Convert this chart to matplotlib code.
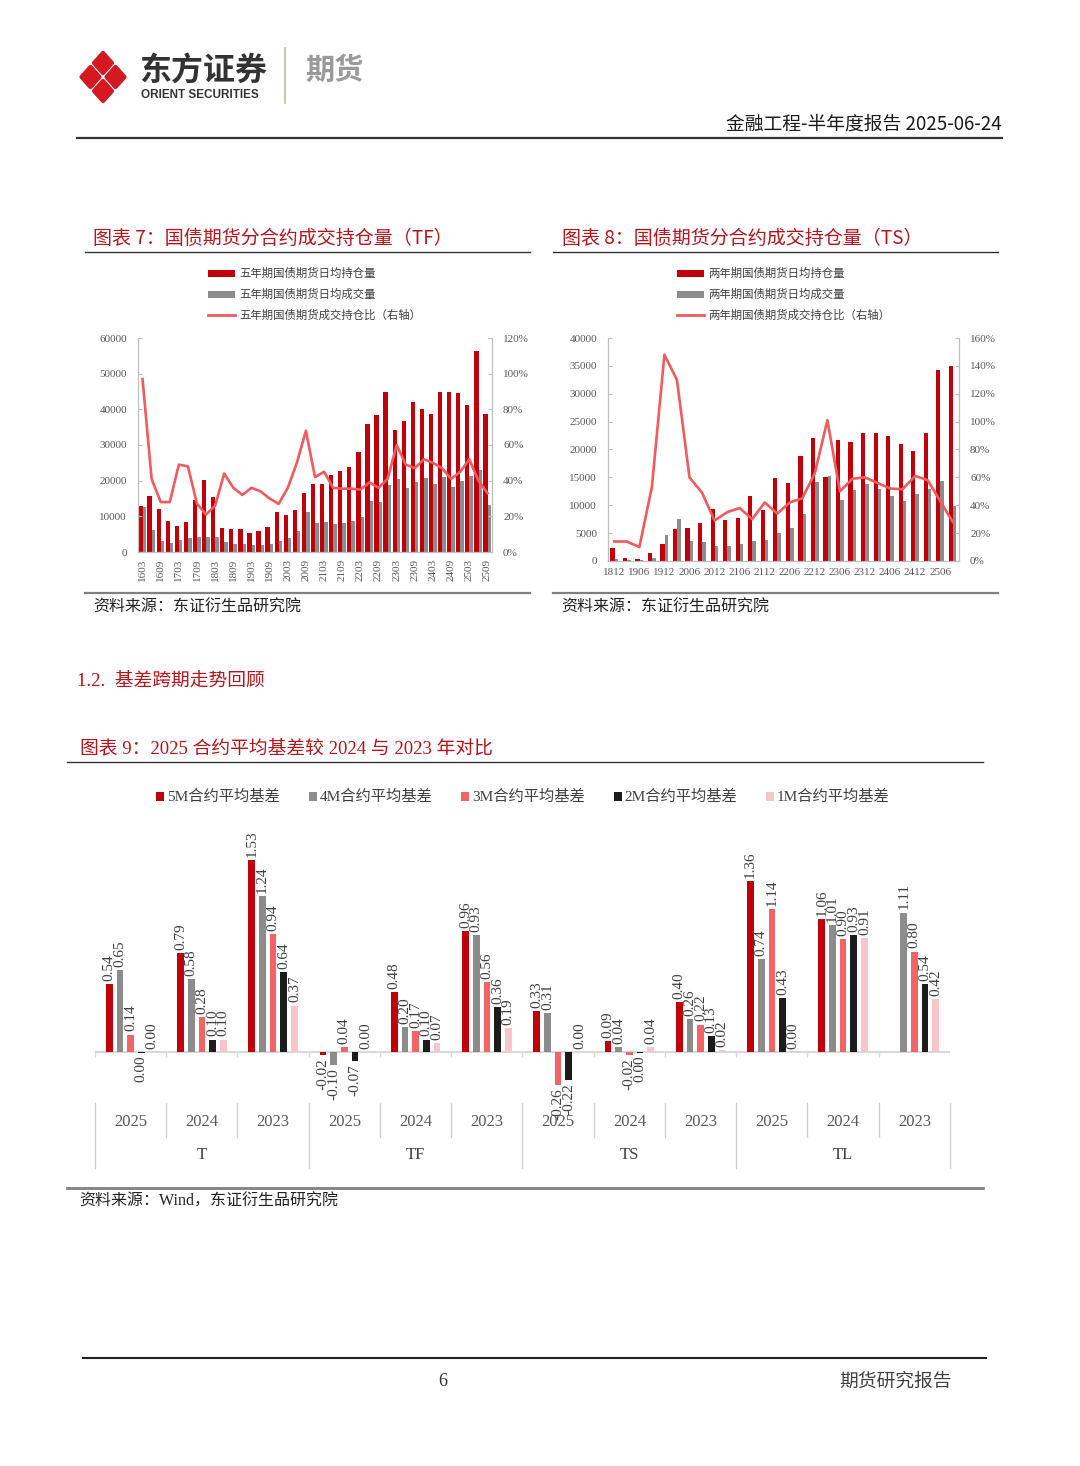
import matplotlib
matplotlib.use("Agg")
import matplotlib.pyplot as plt
import matplotlib.transforms as mtransforms
from matplotlib.lines import Line2D
from matplotlib.patches import Polygon, Rectangle
from matplotlib.ticker import FuncFormatter
import numpy as np

W, H = 1080, 1466
plt.rcParams["font.family"] = ["Liberation Serif", "Noto Sans CJK SC"]

# ---------------- 图表7 TF ----------------
tf_contracts = ["1603", "1606", "1609", "1612", "1703", "1706", "1709", "1712",
                "1803", "1806", "1809", "1812", "1903", "1906", "1909", "1912",
                "2003", "2006", "2009", "2012", "2103", "2106", "2109", "2112",
                "2203", "2206", "2209", "2212", "2303", "2306", "2309", "2312",
                "2403", "2406", "2409", "2412", "2503", "2506", "2509"]
tf_oi = [12800, 15700, 12000, 8800, 7200, 8300, 14500, 20200,
         15300, 6600, 6400, 6400, 5200, 6000, 7000, 11200,
         10500, 11700, 16500, 19200, 19000, 21700, 22800, 23800,
         28000, 35800, 38300, 44800, 34200, 36700, 42000, 40000,
         38600, 45000, 45000, 44500, 41200, 56400, 38800]
tf_vol = [12500, 6300, 3200, 2500, 3500, 3900, 4100, 4100,
          4100, 2800, 2300, 2200, 1900, 1900, 2200, 3000,
          3800, 6000, 11300, 8200, 8500, 7800, 8000, 8600,
          9800, 14300, 14000, 18800, 20500, 18000, 19500, 20800,
          19200, 21000, 18200, 20000, 21200, 23000, 13200]
tf_ratio = [0.97, 0.41, 0.28, 0.28, 0.49, 0.48, 0.27, 0.21,
            0.26, 0.44, 0.36, 0.32, 0.36, 0.34, 0.30, 0.27,
            0.36, 0.50, 0.68, 0.42, 0.45, 0.36, 0.355, 0.355,
            0.35, 0.39, 0.36, 0.41, 0.60, 0.49, 0.47, 0.52,
            0.50, 0.47, 0.41, 0.45, 0.52, 0.40, 0.33]

# ---------------- 图表8 TS ----------------
ts_contracts = ["1812", "1903", "1906", "1909", "1912", "2003", "2006", "2009",
                "2012", "2103", "2106", "2109", "2112", "2203", "2206", "2209",
                "2212", "2303", "2306", "2309", "2312", "2403", "2406", "2409",
                "2412", "2503", "2506", "2509"]
ts_oi = [2400, 600, 300, 1400, 3100, 5700, 5900, 6900,
         9400, 7400, 7800, 11700, 9100, 14800, 14000, 18900,
         22000, 15100, 21700, 21300, 23000, 23000, 22400, 20900,
         19800, 23000, 34300, 35000]
ts_vol = [300, 100, 100, 600, 4600, 7500, 3500, 3400,
          2700, 2700, 3000, 3500, 3800, 5000, 5900, 8500,
          14200, 15300, 10900, 12800, 13800, 13000, 11700, 10800,
          12000, 13000, 14400, 9800]
ts_ratio = [0.14, 0.14, 0.10, 0.53, 1.48, 1.30, 0.60, 0.49,
            0.29, 0.35, 0.38, 0.30, 0.42, 0.34, 0.42, 0.45,
            0.63, 1.01, 0.50, 0.59, 0.60, 0.56, 0.52, 0.515,
            0.61, 0.58, 0.43, 0.28]

# ---------------- 图表9 基差 ----------------
basis_products = ["T", "TF", "TS", "TL"]
basis_years = ["2025", "2024", "2023"]
basis_names = ["5M合约平均基差", "4M合约平均基差", "3M合约平均基差",
               "2M合约平均基差", "1M合约平均基差"]
basis_5m = [0.54, 0.79, 1.53, -0.02, 0.48, 0.96, 0.33, 0.09, 0.40, 1.36, 1.06, np.nan]
basis_4m = [0.65, 0.58, 1.24, -0.10, 0.20, 0.93, 0.31, 0.04, 0.26, 0.74, 1.01, 1.11]
basis_3m = [0.14, 0.28, 0.94, 0.04, 0.17, 0.56, -0.26, -0.02, 0.22, 1.14, 0.90, 0.80]
basis_2m = [-0.004, 0.10, 0.64, -0.07, 0.10, 0.36, -0.22, -0.004, 0.13, 0.43, 0.93, 0.54]
basis_1m = [0.00, 0.10, 0.37, 0.00, 0.07, 0.19, 0.00, 0.04, 0.02, 0.00, 0.91, 0.42]

RED = "#C0000B"
GRAY = "#8C8C8C"
LINE = "#F25A5E"
TITLE_RED = "#B8141C"
SERIES_COLORS = ["#C0000B", "#8C8C8C", "#F26466", "#1C1C1C", "#F7C5CB"]
TXT = "#404040"
CJK = ["Noto Sans CJK SC", "DejaVu Sans"]

fig = plt.figure(figsize=(W / 100, H / 100), dpi=100)
fig.patch.set_facecolor("white")


def ftext(x, y, s, **kw):
    fig.text(x / W, 1 - y / H, s, **kw)


def fline(x0, x1, y0, y1=None, **kw):
    y1 = y0 if y1 is None else y1
    fig.add_artist(Line2D([x0 / W, x1 / W], [1 - y0 / H, 1 - y1 / H],
                          transform=fig.transFigure, **kw))


def frect(x, y, w, h, color):
    fig.add_artist(Rectangle((x / W, 1 - (y + h) / H), w / W, h / H,
                             transform=fig.transFigure, color=color, lw=0))


def axes_px(l, t, r, b):
    return fig.add_axes([l / W, 1 - b / H, (r - l) / W, (b - t) / H])


# ---------------- header ----------------
cx, cy, hw, hh = 103, 77, 25, 28
for dx, dy in [(0, -0.5), (0.5, 0), (0, 0.5), (-0.5, 0)]:
    px, py = cx + dx * hw, cy + dy * hh
    s = 0.72
    pts = [(px, py - hh / 2 * s), (px + hw / 2 * s, py),
           (px, py + hh / 2 * s), (px - hw / 2 * s, py)]
    fig.add_artist(Polygon([(a / W, 1 - b / H) for a, b in pts], closed=True,
                           transform=fig.transFigure, facecolor="#D51920",
                           edgecolor="#D51920", lw=3, joinstyle="round"))
ftext(139, 72, "东方证券", family=CJK, fontsize=23, weight="bold",
      color="#333333", va="center")
ftext(141, 95, "ORIENT SECURITIES", family=["Liberation Sans"], fontsize=8.5,
      weight="bold", color="#333333", va="center")
fline(285, 285, 48, 103, color="#C8B89A", lw=1.2)
ftext(305, 70, "期货", family=CJK, fontsize=21, weight="bold",
      color="#9A9A9A", va="center")
ftext(1002, 124, "金融工程-半年度报告 2025-06-24", family=CJK, fontsize=13.5,
      color="#1A1A1A", ha="right", va="center")
fline(77, 1002, 138, color="#333333", lw=1.6)


# ---------------- holdings charts ----------------
def holdings_chart(box, title, title_x, line_x0, line_x1, legend_x, legend_names,
                   contracts, oi, vol, ratio, ymax, rmax, rstep, rotate,
                   red_w, gray_w):
    ftext(title_x, 238, title, family=CJK, fontsize=13.7, color=TITLE_RED, va="center")
    fline(line_x0, line_x1, 252, color="#333333", lw=1)
    for i, (kind, name) in enumerate(zip(["bar_r", "bar_g", "line"], legend_names)):
        y = 273 + i * 21
        if kind == "line":
            fline(legend_x, legend_x + 27, y, color=LINE, lw=2)
        else:
            frect(legend_x, y - 3.5, 27, 7, RED if kind == "bar_r" else GRAY)
        ftext(legend_x + 31, y, name, family=CJK, fontsize=8.2, color=TXT, va="center")

    ax = axes_px(*box)
    x = np.arange(len(contracts))
    ax.bar(x - red_w / 2 + 0.02, oi, width=red_w, color=RED, lw=0)
    ax.bar(x + gray_w / 2 + 0.02, vol, width=gray_w, color=GRAY, lw=0)
    ax.set_xlim(-0.5, len(contracts) - 0.5)
    ax.set_ylim(0, ymax)
    ax.set_yticks(np.arange(0, ymax + 1, ymax / (6 if ymax == 60000 else 8)))
    ax.yaxis.set_major_formatter(FuncFormatter(lambda v, _: f"{v:.0f}"))
    ax.set_xticks(x[::2])
    ax.set_xticklabels(contracts[::2], rotation=90 if rotate else 0)
    ax2 = ax.twinx()
    ax2.plot(x, ratio, color=LINE, lw=1.9, solid_joinstyle="round")
    ax2.set_ylim(0, rmax)
    ax2.set_yticks(np.arange(0, rmax + 1e-9, rstep))
    ax2.yaxis.set_major_formatter(FuncFormatter(lambda v, _: f"{v * 100:.0f}%"))
    for a in (ax, ax2):
        for sp in a.spines.values():
            sp.set_color("#BFBFBF")
            sp.set_linewidth(0.8)
        a.spines["top"].set_visible(False)
        a.tick_params(axis="y", direction="in", length=3, color="#BFBFBF",
                      labelsize=8, labelcolor="#595959", pad=8)
        a.tick_params(axis="x", length=0, labelsize=8, labelcolor="#595959", pad=5)
    ax.patch.set_visible(False)
    ftext(line_x0 + 8, 607, "资料来源：东证衍生品研究院", family=CJK, fontsize=11.5,
          color="#222222", va="center")
    fline(line_x0, line_x1, 593, color="#808080", lw=1.6)


holdings_chart((138, 338, 492, 552), "图表 7：国债期货分合约成交持仓量（TF）",
               93, 85, 530, 208,
               ["五年期国债期货日均持仓量", "五年期国债期货日均成交量",
                "五年期国债期货成交持仓比（右轴）"],
               tf_contracts, tf_oi, tf_vol, tf_ratio, 60000, 1.2, 0.2, True, 0.48, 0.38)
holdings_chart((608, 338, 959, 561), "图表 8：国债期货分合约成交持仓量（TS）",
               562, 553, 998, 677,
               ["两年期国债期货日均持仓量", "两年期国债期货日均成交量",
                "两年期国债期货成交持仓比（右轴）"],
               ts_contracts, ts_oi, ts_vol, ts_ratio, 40000, 1.6, 0.2, False, 0.34, 0.28)

# ---------------- section heading ----------------
ftext(77, 681, "1.2.  基差跨期走势回顾", fontsize=13.5, color=TITLE_RED, va="center")
ftext(80, 748, "图表 9：2025 合约平均基差较 2024 与 2023 年对比", fontsize=13.5,
      color=TITLE_RED, va="center")
fline(67, 983, 762, color="#333333", lw=1)

# legend chart 9
for i, (name, col) in enumerate(zip(basis_names, SERIES_COLORS)):
    lx = 156 + i * 152.5
    frect(lx, 792, 8, 9, col)
    ftext(lx + 11, 797, name, fontsize=11, color=TXT, va="center")

# ---------------- chart 9 ----------------
ax9 = axes_px(95, 832, 950, 1100)
series = [basis_5m, basis_4m, basis_3m, basis_2m, basis_1m]
ncat = len(basis_products) * len(basis_years)
centers = np.arange(ncat) + 0.5
step, bw = 0.15, 0.094
for k, (vals, col) in enumerate(zip(series, SERIES_COLORS)):
    xs = centers + (k - 2) * step
    ax9.bar(xs, vals, width=bw, color=col, lw=0, zorder=3)
    for xv, v in zip(xs, vals):
        if np.isnan(v):
            continue
        lab = "0.00" if abs(v) < 0.005 else f"{v:.2f}"
        if v < 0:
            ax9.text(xv, v - 0.025, lab, rotation=90, ha="center", va="top",
                     fontsize=11, color=TXT)
        else:
            ax9.text(xv, v + 0.025, lab, rotation=90, ha="center", va="bottom",
                     fontsize=11, color=TXT)
ax9.axhline(0, color="#D9D9D9", lw=1.5, zorder=2)
ax9.vlines(np.arange(ncat + 1), -0.04, 0, color="#D9D9D9", lw=1)
ax9.set_xlim(0, ncat)
ax9.set_ylim(-0.38, 1.75)
ax9.axis("off")

bt = mtransforms.blended_transform_factory(ax9.transData, fig.transFigure)
for i in range(ncat + 1):
    y_end = 1168 if i % 3 == 0 else 1137
    ax9.add_artist(Line2D([i, i], [1 - 1103 / H, 1 - y_end / H], transform=bt,
                          color="#D0D0D0", lw=1, clip_on=False))
for i in range(ncat):
    ax9.text(i + 0.5, 1 - 1122 / H, basis_years[i % 3], transform=bt, ha="center",
             va="center", fontsize=12, color="#595959")
for j, p in enumerate(basis_products):
    ax9.text(j * 3 + 1.5, 1 - 1155 / H, p, transform=bt, ha="center",
             va="center", fontsize=12, color="#404040")

fline(67, 983, 1188, color="#808080", lw=2)
ftext(79, 1202, "资料来源：Wind，东证衍生品研究院", fontsize=11.5, color="#222222",
      va="center")

# ---------------- footer ----------------
fline(83, 986, 1358, color="#222222", lw=1.5)
ftext(443, 1381, "6", fontsize=13, color="#333333", ha="center", va="center")
ftext(896, 1381, "期货研究报告", family=CJK, fontsize=13.5, color="#404040",
      ha="center", va="center")

fig.savefig("out.png", dpi=100, facecolor="white")
